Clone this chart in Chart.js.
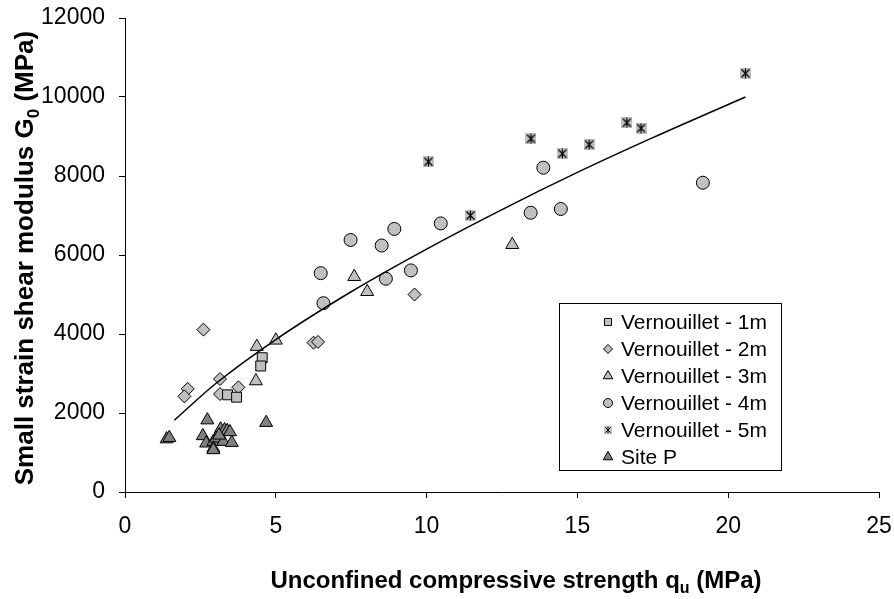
<!DOCTYPE html>
<html>
<head>
<meta charset="utf-8">
<script src="https://cdn.jsdelivr.net/npm/chart.js@4.4.0/dist/chart.umd.min.js"></script>
<style>
  html, body { margin: 0; padding: 0; background: #fff; }
</style>
</head>
<body>
<canvas id="chart" width="894" height="599"></canvas>
<script>
// values, [qu (MPa), G0 (MPa)]
const vern1m = [[4.55, 3400], [4.5, 3190], [3.4, 2460], [3.7, 2400]];
const vern2m = [[2.6, 4110], [2.08, 2610], [1.97, 2420], [3.15, 2860], [3.15, 2480], [3.76, 2650], [6.25, 3780], [6.4, 3800], [9.6, 5000]];
const vern3m = [[4.37, 3680], [5.0, 3840], [4.34, 2810], [7.6, 5450], [8.03, 5070], [12.84, 6260]];
const vern4m = [[6.49, 5540], [6.58, 4780], [7.48, 6380], [8.51, 6240], [8.93, 6660], [8.65, 5400], [9.48, 5610], [10.47, 6800], [13.45, 7070], [13.87, 8210], [14.45, 7165], [19.16, 7830]];
const vern5m = [[10.06, 8360], [11.45, 7000], [13.46, 8945], [14.5, 8565], [15.39, 8795], [16.64, 9350], [17.11, 9210], [20.57, 10600]];
const siteP = [[1.38, 1340], [1.47, 1375], [2.73, 1820], [2.58, 1420], [2.69, 1235], [3.17, 1590], [3.3, 1570], [3.39, 1550], [3.48, 1520], [2.93, 1275], [3.02, 1360], [3.26, 1275], [3.54, 1250], [2.93, 1105], [2.93, 1065], [3.12, 1435], [4.68, 1755]];

// trend curve, points
const trendQu = [1.64, 3, 5, 7.5, 10, 12.5, 15, 17.5, 20.57];
const trendG0 = [1820, 2740, 3860, 5070, 6150, 7150, 8090, 8970, 10000];

const seriesNames = ['Vernouillet - 1m', 'Vernouillet - 2m', 'Vernouillet - 3m', 'Vernouillet - 4m', 'Vernouillet - 5m', 'Site P'];
const xTicks = [0, 5, 10, 15, 20, 25];
const yTicks = [0, 2000, 4000, 6000, 8000, 10000, 12000];

const lightGrey = '#c0c0c0';
const darkGrey = '#808080';
const fontFamily = '"Liberation Sans", Arial, sans-serif';

//excel style star marker: grey box with an x and a vertical bar
function starMarker(size, lw) {
    const c = document.createElement('canvas');
    c.width = size; c.height = size;
    const g = c.getContext('2d');
    g.fillStyle = lightGrey;
    g.fillRect(0, 0, size, size);
    g.strokeStyle = '#000';
    g.lineWidth = lw;
    g.beginPath();
    g.moveTo(1.5, 1.5); g.lineTo(size - 1.5, size - 1.5);
    g.moveTo(size - 1.5, 1.5); g.lineTo(1.5, size - 1.5);
    g.moveTo(size / 2, 0.5); g.lineTo(size / 2, size - 0.5);
    g.stroke();
    return c;
}
const starBig = starMarker(11, 1.2);
const starSmall = starMarker(8, 1);

const toPts = arr => arr.map(p => ({ x: p[0], y: p[1] }));

function markerSet(label, data, style, radius, fill) {
    return {
        label: label,
        data: toPts(data),
        pointStyle: style,
        pointRadius: radius,
        pointBackgroundColor: fill,
        pointBorderColor: '#000',
        pointBorderWidth: 1,
        showLine: false,
        order: 2
    };
}

const datasets = [
    markerSet(seriesNames[0], vern1m, 'rect', 7, lightGrey),
    markerSet(seriesNames[1], vern2m, 'rectRot', 6.5, lightGrey),
    markerSet(seriesNames[2], vern3m, 'triangle', 7.5, lightGrey),
    markerSet(seriesNames[3], vern4m, 'circle', 6.5, lightGrey),
    markerSet(seriesNames[4], vern5m, starBig, 5.5, lightGrey),
    markerSet(seriesNames[5], siteP, 'triangle', 7.5, darkGrey),
    {
        label: 'trend',
        data: trendQu.map((q, i) => ({ x: q, y: trendG0[i] })),
        showLine: true,
        borderColor: '#000',
        borderWidth: 1.5,
        pointRadius: 0,
        cubicInterpolationMode: 'monotone',
        fill: false,
        order: 1
    }
];

//legend entries drawn in a box inside the plot, like the excel chart
const legendStyles = [
    { style: 'rect', r: 5, fill: lightGrey },
    { style: 'rectRot', r: 4.5, fill: lightGrey },
    { style: 'triangle', r: 5.5, fill: lightGrey },
    { style: 'circle', r: 4.5, fill: lightGrey },
    { style: starSmall, r: 4, fill: lightGrey },
    { style: 'triangle', r: 5.5, fill: darkGrey }
];

function drawParts(ctx, parts, x, y, size) {
    //parts: [text, isSub]
    let cx = x;
    parts.forEach(p => {
        ctx.font = 'bold ' + (p[1] ? Math.round(size * 0.66) : size) + 'px ' + fontFamily;
        ctx.fillText(p[0], cx, p[1] ? y + size * 0.22 : y);
        cx += ctx.measureText(p[0]).width;
    });
}
function partsWidth(ctx, parts, size) {
    let w = 0;
    parts.forEach(p => {
        ctx.font = 'bold ' + (p[1] ? Math.round(size * 0.66) : size) + 'px ' + fontFamily;
        w += ctx.measureText(p[0]).width;
    });
    return w;
}

const overlay = {
    id: 'overlay',
    afterDraw(chart) {
        const ctx = chart.ctx;
        ctx.save();
        //legend box
        ctx.fillStyle = '#fff';
        ctx.fillRect(559, 303, 222, 167);
        ctx.strokeStyle = '#000';
        ctx.lineWidth = 1;
        ctx.strokeRect(559.5, 303.5, 222, 167);
        seriesNames.forEach((name, i) => {
            const y = 322 + i * 27;
            const s = legendStyles[i];
            ctx.fillStyle = s.fill;
            ctx.strokeStyle = '#000';
            ctx.lineWidth = 1;
            Chart.helpers.drawPoint(ctx, { pointStyle: s.style, radius: s.r, borderWidth: 1, rotation: 0 }, 608, y);
            ctx.fillStyle = '#000';
            ctx.font = '21px ' + fontFamily;
            ctx.textAlign = 'left';
            ctx.textBaseline = 'middle';
            ctx.fillText(name, 621, y + 1);
        });

        //axis titles with subscripts
        ctx.fillStyle = '#000';
        ctx.textAlign = 'left';
        ctx.textBaseline = 'alphabetic';
        const xParts = [['Unconfined compressive strength q', false], ['u', true], [' (MPa)', false]];
        const xw = partsWidth(ctx, xParts, 24);
        drawParts(ctx, xParts, 516 - xw / 2, 588, 24);

        const yParts = [['Small strain shear modulus G', false], ['0', true], [' (MPa)', false]];
        const yw = partsWidth(ctx, yParts, 26);
        ctx.translate(33, 258);
        ctx.rotate(-Math.PI / 2);
        drawParts(ctx, yParts, -yw / 2, 0, 26);
        ctx.restore();
    }
};

//keep the plot box where the reference has it
function noScalePadding(scale) {
    scale.paddingTop = 0;
    scale.paddingBottom = 0;
    scale.paddingLeft = 0;
    scale.paddingRight = 0;
}

new Chart(document.getElementById('chart'), {
    type: 'scatter',
    data: { datasets: datasets },
    options: {
        responsive: false,
        animation: false,
        layout: { autoPadding: false, padding: { left: 0, top: 18, right: 15, bottom: 0 } },
        plugins: {
            legend: { display: false },
            tooltip: { enabled: false }
        },
        scales: {
            x: {
                type: 'linear',
                min: 0,
                max: 25,
                afterBuildTicks: scale => { scale.ticks = xTicks.map(v => ({ value: v })); },
                afterFit: scale => { scale.height = 107; noScalePadding(scale); },
                ticks: {
                    color: '#000',
                    padding: 15,
                    maxRotation: 0,
                    font: { family: fontFamily, size: 23 }
                },
                grid: { drawOnChartArea: false, drawTicks: true, tickLength: 6, color: '#000' },
                border: { color: '#000', width: 1 }
            },
            y: {
                type: 'linear',
                min: 0,
                max: 12000,
                afterBuildTicks: scale => { scale.ticks = yTicks.map(v => ({ value: v })); },
                afterFit: scale => { scale.width = 125; noScalePadding(scale); },
                ticks: {
                    color: '#000',
                    padding: 14,
                    callback: v => String(v),
                    font: { family: fontFamily, size: 23 }
                },
                grid: { drawOnChartArea: false, drawTicks: true, tickLength: 6, color: '#000' },
                border: { color: '#000', width: 1 }
            }
        }
    },
    plugins: [overlay]
});
</script>
</body>
</html>
